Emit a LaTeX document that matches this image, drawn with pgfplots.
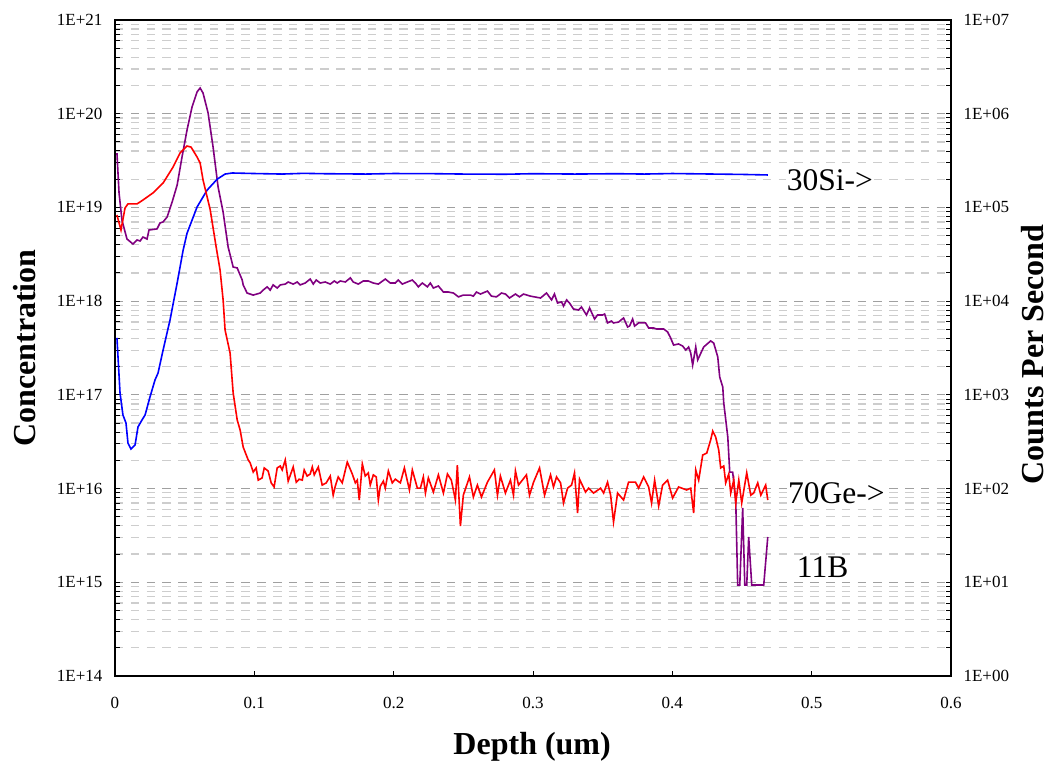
\documentclass[border=0pt]{standalone}
\usepackage{fontspec}
\setmainfont{Liberation Serif}
\usepackage{pgfplots}
\pgfplotsset{compat=1.18}
\definecolor{bpurple}{RGB}{128,0,128}
\definecolor{majgrid}{RGB}{160,160,160}
\definecolor{mingrid}{RGB}{205,205,205}
\begin{document}
\begin{tikzpicture}
\path[use as bounding box] (-115pt,-87pt) rectangle (940pt,676pt);
\begin{axis}[
  scale only axis, width=836pt, height=656pt,
  xmin=0, xmax=0.6, ymode=log,
  tick align=inside,
  major tick length=5pt, minor tick length=5pt,
  tick style={black, line width=1pt},
  axis line style={line width=1.8pt},
  tick label style={font=\fontsize{17}{20}\selectfont},
  label style={font=\fontsize{32}{36}\selectfont\bfseries},
  ymin=1e14, ymax=1e21,
  xtick={0,0.1,0.2,0.3,0.4,0.5,0.6},
  xticklabels={0,0.1,0.2,0.3,0.4,0.5,0.6},
  xtick pos=bottom, ytick pos=left,
  xticklabel style={yshift=-18pt},
  ytick={1e14,1e15,1e16,1e17,1e18,1e19,1e20,1e21},
  yticklabels={1E+14,1E+15,1E+16,1E+17,1E+18,1E+19,1E+20,1E+21},
  minor ytick={2e14,3e14,4e14,5e14,6e14,7e14,8e14,9e14,
    2e15,3e15,4e15,5e15,6e15,7e15,8e15,9e15,
    2e16,3e16,4e16,5e16,6e16,7e16,8e16,9e16,
    2e17,3e17,4e17,5e17,6e17,7e17,8e17,9e17,
    2e18,3e18,4e18,5e18,6e18,7e18,8e18,9e18,
    2e19,3e19,4e19,5e19,6e19,7e19,8e19,9e19,
    2e20,3e20,4e20,5e20,6e20,7e20,8e20,9e20},
  yticklabel style={xshift=-9pt},
  ymajorgrids, yminorgrids,
  major grid style={majgrid, line width=1.2pt, dash pattern=on 8.5pt off 7.3pt},
  minor grid style={mingrid, line width=1.2pt, dash pattern=on 8.5pt off 7.3pt},
  xlabel={Depth (um)},
  xlabel style={at={(axis description cs:0.499,-0.108)}, anchor=center},
  ylabel={Concentration},
  ylabel style={at={(axis description cs:-0.108,0.5)}, anchor=center},
]
\addplot[bpurple, line width=1.6pt] coordinates {
(0.0014,3.8e19)(0.0029,1.43e19)(0.005,7.3e18)(0.0086,4.6e18)(0.0129,4.07e18)(0.0158,4.49e18)(0.018,4.38e18)(0.0201,4.83e18)(0.023,4.6e18)(0.0244,5.74e18)(0.0302,5.9e18)(0.0323,6.82e18)(0.0345,7.0e18)(0.0374,7.9e18)(0.041,1.14e19)(0.0446,1.73e19)(0.0481,3.45e19)(0.0517,6.7e19)(0.0553,1.18e20)(0.0589,1.71e20)(0.0611,1.88e20)(0.0632,1.66e20)(0.0668,1.02e20)(0.0704,4.4e19)(0.074,1.65e19)(0.0776,8.9e18)(0.0812,3.78e18)(0.0848,2.31e18)(0.0877,2.26e18)(0.0913,1.68e18)(0.092,1.49e18)(0.0948,1.22e18)(0.0992,1.16e18)(0.1042,1.22e18)(0.1063,1.31e18)(0.1092,1.42e18)(0.1114,1.31e18)(0.1135,1.49e18)(0.1164,1.38e18)(0.1186,1.49e18)(0.1222,1.52e18)(0.1243,1.6e18)(0.1279,1.52e18)(0.1308,1.6e18)(0.1329,1.49e18)(0.1365,1.56e18)(0.1401,1.72e18)(0.1423,1.52e18)(0.1444,1.68e18)(0.1473,1.56e18)(0.1509,1.6e18)(0.1545,1.52e18)(0.1574,1.64e18)(0.1595,1.56e18)(0.1617,1.64e18)(0.1653,1.6e18)(0.1689,1.77e18)(0.171,1.6e18)(0.1746,1.52e18)(0.1782,1.64e18)(0.1818,1.64e18)(0.1854,1.56e18)(0.189,1.52e18)(0.194,1.72e18)(0.1976,1.56e18)(0.2012,1.56e18)(0.2033,1.68e18)(0.2062,1.52e18)(0.2098,1.6e18)(0.2134,1.68e18)(0.2156,1.56e18)(0.2177,1.42e18)(0.2206,1.56e18)(0.2242,1.42e18)(0.2263,1.56e18)(0.2285,1.38e18)(0.2321,1.45e18)(0.2357,1.25e18)(0.2393,1.25e18)(0.2429,1.22e18)(0.2465,1.11e18)(0.25,1.16e18)(0.2551,1.16e18)(0.2572,1.13e18)(0.2594,1.25e18)(0.2623,1.19e18)(0.2673,1.28e18)(0.2702,1.13e18)(0.2738,1.11e18)(0.2774,1.22e18)(0.2802,1.19e18)(0.2831,1.08e18)(0.2874,1.19e18)(0.2903,1.11e18)(0.2932,1.19e18)(0.2982,1.13e18)(0.3054,1.08e18)(0.3097,1.22e18)(0.3133,1.03e18)(0.3154,1.19e18)(0.3176,9.55e17)(0.3205,9.8e17)(0.3219,8.87e17)(0.3241,1.03e18)(0.3262,9.55e17)(0.3291,8.24e17)(0.3327,8.04e17)(0.3348,8.65e17)(0.3384,7.11e17)(0.3406,8.45e17)(0.3442,6.44e17)(0.3463,7.11e17)(0.3499,7.11e17)(0.3514,7.29e17)(0.3535,5.85e17)(0.3564,6.14e17)(0.3578,5.85e17)(0.3614,5.98e17)(0.365,6.61e17)(0.3679,5.3e17)(0.3693,5.42e17)(0.3715,6.44e17)(0.3729,5.42e17)(0.3758,5.85e17)(0.3808,5.85e17)(0.383,5.17e17)(0.3866,5.17e17)(0.3887,5.04e17)(0.3938,5.04e17)(0.3966,4.69e17)(0.3988,4.04e17)(0.4009,3.4e17)(0.4045,3.49e17)(0.4074,3.32e17)(0.4096,3.01e17)(0.4117,3.24e17)(0.4132,2.79e17)(0.4146,2.08e17)(0.4168,3.24e17)(0.4182,2.36e17)(0.4225,3.24e17)(0.4275,3.76e17)(0.4297,3.57e17)(0.4326,2.54e17)(0.434,1.55e17)(0.4362,1.21e17)(0.4369,8.2e16)(0.4398,3.55e16)(0.4412,1.5e16)(0.4433,1.5e16)(0.4455,7.55e15)(0.4469,9.35e14)(0.4484,9.35e14)(0.4505,6.2e15)(0.452,9.35e14)(0.4534,9.35e14)(0.4548,3.04e15)(0.457,9.35e14)(0.4656,9.35e14)(0.4685,3.04e15)
};
\end{axis}
\begin{axis}[
  scale only axis, width=836pt, height=656pt,
  xmin=0, xmax=0.6, ymode=log,
  tick align=inside,
  major tick length=5pt, minor tick length=5pt,
  tick style={black, line width=1pt},
  axis line style={line width=1.8pt},
  tick label style={font=\fontsize{17}{20}\selectfont},
  label style={font=\fontsize{32}{36}\selectfont\bfseries},
  ymin=1, ymax=1e7,
  axis x line=none, axis y line*=right,
  ytick={1,1e1,1e2,1e3,1e4,1e5,1e6,1e7},
  yticklabels={1E+00,1E+01,1E+02,1E+03,1E+04,1E+05,1E+06,1E+07},
  minor ytick={2,3,4,5,6,7,8,9,20,30,40,50,60,70,80,90,
    200,300,400,500,600,700,800,900,
    2e3,3e3,4e3,5e3,6e3,7e3,8e3,9e3,
    2e4,3e4,4e4,5e4,6e4,7e4,8e4,9e4,
    2e5,3e5,4e5,5e5,6e5,7e5,8e5,9e5,
    2e6,3e6,4e6,5e6,6e6,7e6,8e6,9e6},
  yticklabel style={xshift=9pt},
  ylabel={Counts Per Second},
  ylabel style={at={(axis description cs:1.097,0.49)}, anchor=center},
]
\addplot[blue, line width=1.6pt] coordinates {
(0.0014,4.05e3)(0.0036,1.05e3)(0.0057,610)(0.0079,500)(0.0093,306)(0.0115,264)(0.0144,292)(0.0165,454)(0.0194,540)(0.0216,610)(0.0251,948)(0.0287,1440)(0.0309,1710)(0.0345,3.0e3)(0.0395,6.3e3)(0.0446,1.56e4)(0.0489,3.5e4)(0.0517,5.3e4)(0.0589,1.01e5)(0.0661,1.53e5)(0.0733,2.0e5)(0.079,2.27e5)(0.0841,2.33e5)(0.1,2.3e5)(0.12,2.27e5)(0.135,2.31e5)(0.15,2.29e5)(0.18,2.27e5)(0.2,2.3e5)(0.23,2.29e5)(0.25,2.27e5)(0.28,2.26e5)(0.3,2.29e5)(0.33,2.27e5)(0.36,2.29e5)(0.38,2.27e5)(0.4,2.3e5)(0.43,2.27e5)(0.45,2.25e5)(0.4685,2.22e5)
};
\addplot[red, line width=1.6pt] coordinates {
(0.0014,8.3e4)(0.0043,5.74e4)(0.0072,9.86e4)(0.0093,1.09e5)(0.0158,1.09e5)(0.0201,1.2e5)(0.0273,1.43e5)(0.0345,1.82e5)(0.0417,2.7e5)(0.0467,3.81e5)(0.0517,4.52e5)(0.0546,4.4e5)(0.0589,3.45e5)(0.0611,2.98e5)(0.0632,1.96e5)(0.0683,9.5e4)(0.0726,3.78e4)(0.0754,2.15e4)(0.0776,1.03e4)(0.079,4.92e3)(0.0826,2.79e3)(0.0848,1.05e3)(0.0877,540)(0.0898,422)(0.092,277)(0.0956,202)(0.097,188)(0.0992,150)(0.1013,166)(0.1028,123)(0.1056,130)(0.1071,166)(0.1099,154)(0.1121,115)(0.1142,104)(0.1164,166)(0.1186,174)(0.12,158)(0.1222,202)(0.1243,120)(0.1279,170)(0.1301,117)(0.1322,126)(0.1344,123)(0.1358,158)(0.1379,136)(0.1401,143)(0.1416,170)(0.143,140)(0.1459,170)(0.1487,109)(0.1516,115)(0.1545,136)(0.1566,85)(0.1581,106)(0.1602,133)(0.1631,115)(0.1667,192)(0.1703,143)(0.1725,115)(0.1739,123)(0.1753,75.5)(0.1775,183)(0.1796,136)(0.1818,147)(0.1832,109)(0.1854,140)(0.1875,133)(0.189,75.5)(0.1904,106)(0.1926,120)(0.194,101)(0.1962,154)(0.199,115)(0.2012,126)(0.2048,115)(0.2077,166)(0.2113,96.6)(0.2134,158)(0.217,101)(0.2192,101)(0.2213,133)(0.2228,89.6)(0.2249,130)(0.2285,91.8)(0.2321,140)(0.2357,89.6)(0.2386,143)(0.2414,123)(0.2443,75.5)(0.2457,178)(0.2479,39.8)(0.25,85)(0.2544,133)(0.2572,81.3)(0.2601,109)(0.263,81.3)(0.2673,117)(0.2723,158)(0.2745,85)(0.2766,136)(0.2802,89.6)(0.2838,123)(0.286,85)(0.2874,154)(0.2896,109)(0.2953,140)(0.2975,85)(0.3004,117)(0.3047,166)(0.3083,85)(0.3126,140)(0.3147,104)(0.3169,133)(0.3198,115)(0.3219,70.1)(0.3248,101)(0.3277,109)(0.3298,147)(0.332,54.8)(0.3334,126)(0.3377,91.8)(0.3399,101)(0.3435,89.6)(0.3485,101)(0.3507,89.6)(0.3535,117)(0.3557,85)(0.3578,44)(0.3607,89.6)(0.365,75.5)(0.3686,117)(0.3736,117)(0.3758,101)(0.3794,133)(0.383,104)(0.3851,70.1)(0.3873,123)(0.3902,65.2)(0.393,109)(0.3966,123)(0.4002,79.3)(0.4045,104)(0.4103,96.6)(0.4132,101)(0.4153,54.8)(0.4168,158)(0.4189,123)(0.4218,228)(0.4247,239)(0.4275,330)(0.429,411)(0.4311,355)(0.4333,258)(0.4347,166)(0.4369,174)(0.4383,115)(0.4405,143)(0.4419,89.6)(0.4441,123)(0.4455,70.1)(0.4477,123)(0.4498,70.1)(0.4534,147)(0.4563,85)(0.4584,89.6)(0.4613,115)(0.4635,85)(0.467,109)(0.4685,75.5)
};
\node[anchor=west, fill=white, inner sep=1pt, font=\fontsize{31.5}{34}\selectfont] at (axis cs:0.4814,1.96e5) {30Si->};
\node[anchor=west, fill=white, inner sep=1pt, font=\fontsize{31.5}{34}\selectfont] at (axis cs:0.4822,89.7) {70Ge->};
\node[anchor=west, fill=white, inner sep=1pt, font=\fontsize{31.5}{34}\selectfont] at (axis cs:0.4886,14.6) {11B};
\end{axis}
\end{tikzpicture}
\end{document}
